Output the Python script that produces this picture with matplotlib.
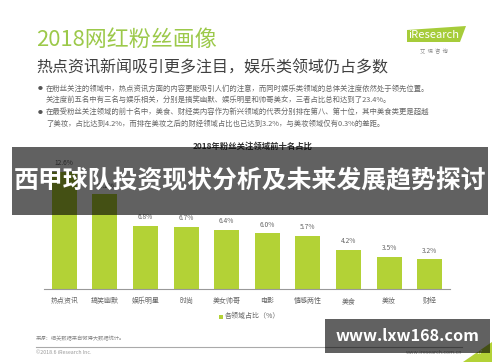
import matplotlib
matplotlib.use("Agg")
import matplotlib.pyplot as plt
from matplotlib.patches import Rectangle, Polygon

plt.rcParams['font.family'] = ['Noto Sans CJK SC', 'DejaVu Sans']

categories = ["热点资讯", "搞笑幽默", "娱乐明星", "时尚", "美女帅哥", "电影", "情感两性", "美食", "美妆", "财经"]
values = [12.6, 10.2, 6.8, 6.7, 6.4, 6.0, 5.7, 4.2, 3.5, 3.2]
value_labels = ["12.6%", "10.2%", "6.8%", "6.7%", "6.4%", "6.0%", "5.7%", "4.2%", "3.5%", "3.2%"]

title = "2018网红粉丝画像"
subtitle = "热点资讯新闻吸引更多注目，娱乐类领域仍占多数"
bullets = [
    "在粉丝关注的领域中，热点资讯方面的内容更能吸引人们的注意，而同时娱乐类领域的总体关注度依然处于领先位置。",
    "关注度前五名中有三名与娱乐相关，分别是搞笑幽默、娱乐明星和帅哥美女，三者占比总和达到了23.4%。",
    "在最受粉丝关注领域的前十名中，美食、财经类内容作为新兴领域的代表分别排在第八、第十位，其中美食类更是超越",
    "了美妆，占比达到4.2%，而排在美妆之后的财经领域占比也已达到3.2%，与美妆领域仅有0.3%的差距。",
]
chart_title = "2018年粉丝关注领域前十名占比"
legend_label = "各领域占比（%）"
source = "来源：相关数据来自微博大数据统计。"
copyright_text = "©2018.6 iResearch Inc."
site_text = "www.iresearch.com.cn"
overlay_title = "西甲球队投资现状分析及未来发展趋势探讨"
watermark = "www.lxw168.com"

W, H = 500, 362
GREEN = '#b3d236'
fig = plt.figure(figsize=(5, 3.62), dpi=100)
fig.patch.set_facecolor('white')

def fx(x):
    return x / W

def fy(y):
    return 1 - y / H

# header texts
fig.text(fx(36), fy(40), title, fontsize=15.8, color='#9cc94a', va='center', ha='left')
fig.text(fx(36), fy(68), subtitle, fontsize=11.5, color='#404040', va='center', ha='left')
bul_y = [89, 100, 112, 124]
for i, (t, y) in enumerate(zip(bullets, bul_y)):
    if i in (0, 2):
        fig.text(fx(38), fy(y), "●", fontsize=3.5, color='#555555', va='center', ha='left')
    fig.text(fx(46), fy(y), t, fontsize=5.3, color='#666666', va='center', ha='left')

# logo
fig.patches.append(Polygon([(fx(407), fy(42)), (fx(460), fy(42)), (fx(466), fy(26)), (fx(407), fy(30))],
                           closed=True, transform=fig.transFigure, facecolor='#a6cc3a', edgecolor='none'))
fig.text(fx(408), fy(35.5), "iResearch", fontsize=8, color='white', va='center', ha='left')
fig.text(fx(434), fy(51), "艾  瑞  咨  询", fontsize=3.8, color='#888888', va='center', ha='center')

# chart title
fig.text(fx(253), fy(146), chart_title, fontsize=6, color='#333333', va='center', ha='center', fontweight='bold')

# bar chart
ax = fig.add_axes([fx(44), fy(289), (450 - 44) / W, (289 - 159) / H])
x = list(range(len(categories)))
ax.bar(x, values, width=0.62, color=GREEN, zorder=2)
for xi, v, lab in zip(x, values, value_labels):
    ax.text(xi, v + 0.5, lab, ha='center', va='bottom', fontsize=4.8, color='#666666')
ax.set_xlim(-0.5, len(categories) - 0.5)
ax.set_ylim(0, 14)
ax.set_xticks(x)
ax.set_xticklabels(categories, fontsize=5, color='#666666')
ax.tick_params(axis='x', length=0, pad=6)
ax.set_yticks([])
for s in ['top', 'right', 'left']:
    ax.spines[s].set_visible(False)
ax.spines['bottom'].set_color('#999999')
ax.spines['bottom'].set_linewidth(0.8)
ax.set_facecolor('none')

# legend
fig.patches.append(Rectangle((fx(219), fy(318.5)), 4 / W, 4 / H, transform=fig.transFigure,
                             facecolor=GREEN, edgecolor='none'))
fig.text(fx(225), fy(316), legend_label, fontsize=5, color='#666666', va='center', ha='left')

# footer
fig.text(fx(36), fy(339), source, fontsize=3.8, color='#888888', va='center', ha='left')
fig.lines.append(plt.Line2D([fx(36), fx(462)], [fy(347), fy(347)], transform=fig.transFigure,
                            color='#aaaaaa', linewidth=0.8))
fig.text(fx(36), fy(353), copyright_text, fontsize=3.8, color='#999999', va='center', ha='left')
fig.text(fx(462), fy(353), site_text, fontsize=3.8, color='#999999', va='center', ha='right')
fig.patches.append(Polygon([(fx(463), fy(362)), (fx(492), fy(362)), (fx(492), fy(342))], closed=True,
                           transform=fig.transFigure, facecolor='#b3d236', edgecolor='none'))
fig.text(fx(480), fy(353), "17", fontsize=4, color='white', va='center', ha='center')

# overlays
fig.patches.append(Rectangle((fx(12), fy(215)), (488 - 12) / W, (215 - 147) / H, transform=fig.transFigure,
                             facecolor='black', alpha=0.62, edgecolor='none', zorder=10))
fig.text(fx(250), fy(181), overlay_title, fontsize=17.9, color='white', fontweight='bold',
         va='center', ha='center', zorder=11)
fig.patches.append(Rectangle((fx(325), fy(353)), (490 - 325) / W, (353 - 319) / H, transform=fig.transFigure,
                             facecolor='black', alpha=0.62, edgecolor='none', zorder=10))
fig.text(fx(407), fy(336), watermark, fontsize=11.7, color='white', fontweight='bold',
         va='center', ha='center', zorder=11)

fig.savefig('out.png', dpi=100, facecolor='white')
